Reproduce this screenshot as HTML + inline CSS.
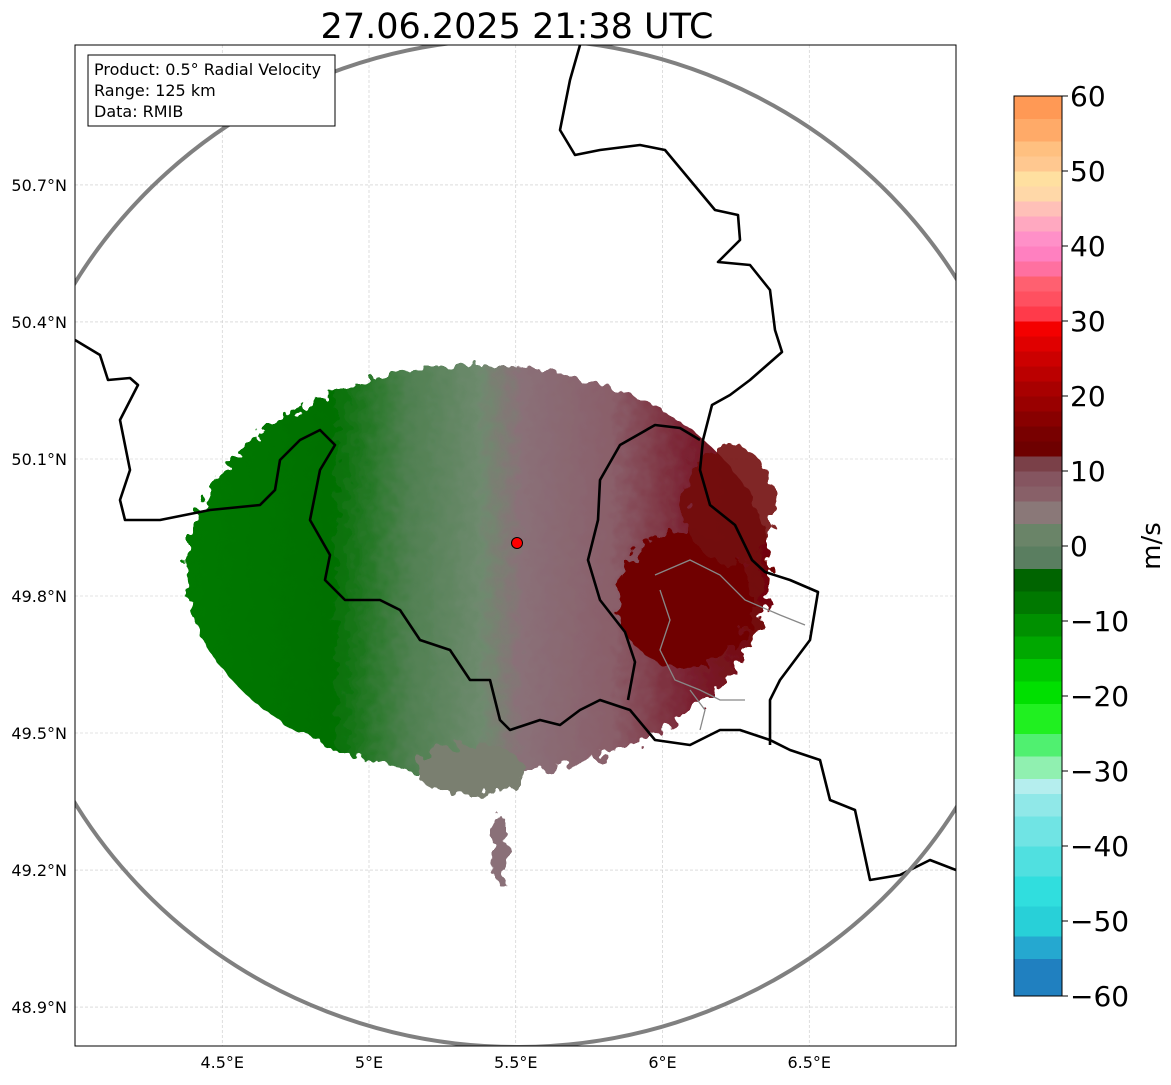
<!DOCTYPE html>
<html><head><meta charset="utf-8"><style>
body{margin:0;background:#fff;width:1171px;height:1081px;overflow:hidden;font-family:"DejaVu Sans",sans-serif}
svg text{font-family:"DejaVu Sans","Liberation Sans",sans-serif}
</style></head><body>
<svg id="chart" width="1171" height="1081">
<defs>
<clipPath id="mapclip"><rect x="75" y="45" width="881" height="1001"/></clipPath>
<linearGradient id="velgrad" x1="180" y1="0" x2="780" y2="0" gradientUnits="userSpaceOnUse">
<stop offset="0" stop-color="#007a00"/><stop offset="0.25" stop-color="#007000"/>
<stop offset="0.38" stop-color="#4f8050"/><stop offset="0.5" stop-color="#6e8a6e"/>
<stop offset="0.57" stop-color="#8a7078"/><stop offset="0.72" stop-color="#8a5f6a"/>
<stop offset="0.85" stop-color="#7a2030"/><stop offset="1" stop-color="#700000"/>
</linearGradient>
<filter id="rough" x="-20%" y="-20%" width="140%" height="140%">
<feTurbulence type="fractalNoise" baseFrequency="0.09" numOctaves="2" seed="3"/>
<feDisplacementMap in="SourceGraphic" scale="22"/>
</filter>
</defs>
<text x="517" y="38" font-size="35" text-anchor="middle">27.06.2025 21:38 UTC</text>
<g clip-path="url(#mapclip)">
<g id="grid"></g>
<g filter="url(#rough)">
<ellipse cx="478" cy="570" rx="292" ry="205" fill="url(#velgrad)"/>
<ellipse cx="470" cy="770" rx="55" ry="25" fill="#7a7f70"/>
<ellipse cx="685" cy="600" rx="68" ry="68" fill="#700000"/>
<ellipse cx="730" cy="505" rx="45" ry="60" fill="#720808" opacity="0.9"/>
<ellipse cx="500" cy="850" rx="8" ry="35" fill="#8a7078"/>
</g>
<g fill="none" stroke="#000" stroke-width="2.6" stroke-linejoin="round">
<polyline points="75,340 100,355 108,380 130,378 138,385 120,420 130,470 120,500 125,520 160,520 210,510 260,505 275,490 280,460 300,440 320,430 335,445 320,470 310,520 330,555 325,580 345,600 380,600 400,610 420,640 450,650 470,680 490,680 500,720 510,730 540,720 560,725 580,710 600,700 630,710 655,740 690,745 720,730 740,730 770,740 790,750 820,760 830,800 855,810 870,880 900,875 930,860 956,870"/>
<polyline points="580,45 570,80 560,130 575,155 600,150 640,145 665,150 690,180 715,210 738,215 740,240 718,262 750,265 770,290 775,330 782,352 750,380 730,395 712,405 703,440 700,470 710,505 735,525 752,560 765,572 790,580 818,592 810,640 795,660 780,680 770,700 770,745"/>
<polyline points="700,440 680,428 655,425 620,445 600,480 598,520 588,560 600,600 625,632 635,662 628,700"/>
</g>
<g fill="none" stroke="#888" stroke-width="1.3">
<polyline points="655,575 690,560 720,575 745,600 780,615 805,625"/>
<polyline points="660,590 670,620 660,650 675,680 700,690 720,700 745,700"/>
<polyline points="690,690 705,710 700,730"/>
</g>
<ellipse cx="517" cy="543" rx="516" ry="504" fill="none" stroke="#808080" stroke-width="4"/>
<circle cx="517" cy="543" r="5.5" fill="#f00" stroke="#000" stroke-width="1"/>
</g>
<rect x="75" y="45" width="881" height="1001" fill="none" stroke="#000" stroke-width="1"/>
<g>
<rect x="88" y="55" width="247" height="71" fill="#fff" stroke="#000" stroke-width="1"/>
<text x="94" y="75" font-size="16">Product: 0.5° Radial Velocity</text>
<text x="94" y="96" font-size="16">Range: 125 km</text>
<text x="94" y="117" font-size="16">Data: RMIB</text>
</g>
<g id="xticks"></g>
<g id="yticks"></g>
<g id="cbar"></g>
<text transform="translate(1160,546) rotate(-90)" font-size="26" text-anchor="middle">m/s</text>
</svg>
<script>
const lonTicks=[4.5,5,5.5,6,6.5];
const latTicks=[50.7,50.4,50.1,49.8,49.5,49.2,48.9];
const cbarTicks=[60,50,40,30,20,10,0,-10,-20,-30,-40,-50,-60];
const cbarBounds=[-60,-55,-52,-48,-44,-40,-36,-33,-31,-28,-25,-21,-18,-15,-12,-9,-6,-3,0,3,6,8,10,12,14,16,18,20,22,24,26,28,30,32,34,36,38,40,42,44,46,48,50,52,54,57,60];
const cbarColors=["#2080c0","#25a8d0","#28d0d8","#30dede","#50e0e0","#70e4e4","#90e8e8","#b5eeee","#90f0b0","#50f070","#20f020","#00e000","#00c800","#00a800","#009000","#007800","#006400","#5a7e60","#6a8468","#8a7878","#886068","#855560","#7a4048","#6e0000","#780000","#880000","#990000","#a80000","#bb0000","#cc0000","#e00000","#f40000","#ff3a4a","#ff5060","#ff6070","#ff70a0","#ff80c0","#ff90c8","#ffa8c0","#ffc0b8","#ffd8a8","#ffe0a0","#ffc890","#ffc080","#ffaa68","#ff9955"];
const NS="http://www.w3.org/2000/svg";
const xOf=lon=>369+(lon-5)*293.5;
const yOf=lat=>596-(lat-49.8)*456.7;
const vY=v=>546-v*7.5;
function mk(tag,attrs,parent){const e=document.createElementNS(NS,tag);for(const k in attrs)e.setAttribute(k,attrs[k]);parent.appendChild(e);return e;}
const grid=document.getElementById('grid'),xt=document.getElementById('xticks'),yt=document.getElementById('yticks'),cb=document.getElementById('cbar');
lonTicks.forEach(l=>{const x=xOf(l);
 const g=mk('line',{x1:x,x2:x,y1:45,y2:1046,stroke:'#c8c8c8','stroke-width':0.6,'stroke-dasharray':'3,2'},grid);
 
 
 const t=mk('text',{x:x,y:1068,'font-size':16,'text-anchor':'middle'},xt);t.textContent=(l%1===0?l.toFixed(0):l)+'°E';
 
 });
latTicks.forEach(l=>{const y=yOf(l);
 const g=mk('line',{x1:75,x2:956,y1:y,y2:y,stroke:'#c8c8c8','stroke-width':0.6,'stroke-dasharray':'3,2'},grid);
 
 
 const t=mk('text',{x:67,y:y+6,'font-size':16,'text-anchor':'end'},yt);t.textContent=l.toFixed(1)+'°N';
 
 });
cbarColors.forEach((c,i)=>{const v0=cbarBounds[i],v1=cbarBounds[i+1];
 const r=mk('rect',{x:1014,y:vY(v1),width:48,height:vY(v0)-vY(v1)+0.5,fill:c},cb);
 
 });
mk('rect',{x:1014,y:vY(60),width:48,height:vY(-60)-vY(60),fill:'none',stroke:'#000','stroke-width':1},cb);
cbarTicks.forEach(v=>{const y=vY(v);
 mk('line',{x1:1062,x2:1068,y1:y,y2:y,stroke:'#000'},cb);
 const t=mk('text',{x:1070,y:y+10,'font-size':28},cb);t.textContent=v<0?'\u2212'+(-v):v;
 
 });
</script>
</body></html>
